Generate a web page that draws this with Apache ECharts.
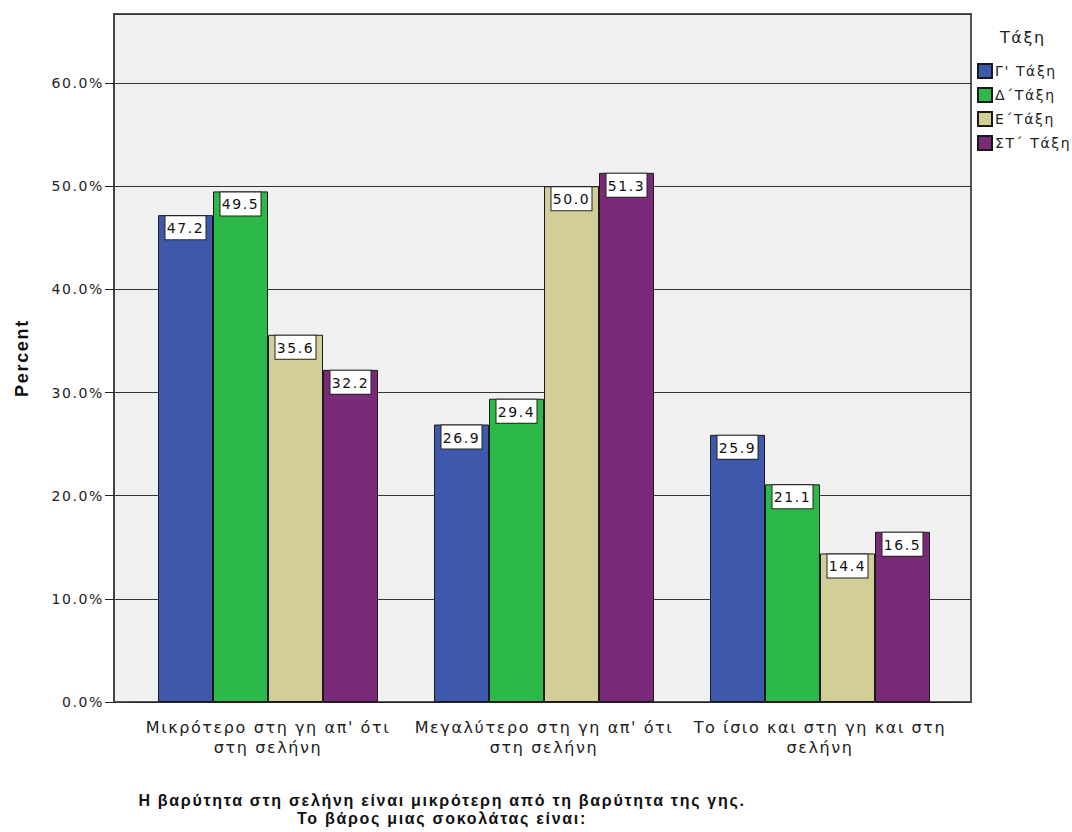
<!DOCTYPE html>
<html>
<head>
<meta charset="utf-8">
<script src="https://cdn.jsdelivr.net/npm/echarts@6/dist/echarts.min.js"></script>
<style>
  html, body { margin: 0; padding: 0; background: #fff; }
  #chart { width: 1072px; height: 832px; }
  /* wide tracking of the chart lettering */
  #chart text { letter-spacing: 1.6px; }
  #chart text.bold-track { letter-spacing: 1.7px; }
</style>
</head>
<body>
<div id="chart"></div>
<script>
// Answer categories (x axis)
const categories = [
  "Μικρότερο στη γη απ' ότι\nστη σελήνη",
  "Μεγαλύτερο στη γη απ' ότι\nστη σελήνη",
  "Το ίσιο και στη γη και στη\nσελήνη"
];
// School grades (series)
const grades = ["Γ' Τάξη", "Δ΄Τάξη", "Ε΄Τάξη", "ΣΤ΄ Τάξη"];
const gradeColors = ["#3E58AC", "#2DB84A", "#D3CE97", "#7B2A7A"];
// Percent of pupils per answer, one array per grade
const gradeG = [47.2, 26.9, 25.9];
const gradeD = [49.5, 29.4, 21.1];
const gradeE = [35.6, 50.0, 14.4];
const gradeST = [32.2, 51.3, 16.5];
const seriesValues = [gradeG, gradeD, gradeE, gradeST];

const yMax = 66.7;
const font = "'DejaVu Sans', Verdana, sans-serif";
const boldFont = "'Liberation Sans', Arial, sans-serif";

const chart = echarts.init(document.getElementById('chart'), null, { renderer: 'svg' });
chart.setOption({
  animation: false,
  textStyle: { fontFamily: font },
  title: {
    text: 'Τάξη', left: 1000, top: 29, padding: 0,
    textStyle: { fontSize: 16, fontWeight: 'normal', color: '#222', fontFamily: font }
  },
  legend: {
    orient: 'vertical', left: 977, top: 63, padding: 0,
    itemWidth: 14, itemHeight: 14, itemGap: 8,
    icon: 'rect',
    textStyle: { fontSize: 14, color: '#222', lineHeight: 14, padding: [0, 0, 0, -2] },
    data: grades
  },
  graphic: [{
    type: 'text', x: 442, y: 791,
    style: {
      text: 'Η βαρύτητα στη σελήνη είναι μικρότερη από τη βαρύτητα της γης.\nΤο βάρος μιας σοκολάτας είναι:',
      font: 'bold 16px ' + boldFont, fill: '#111', align: 'center', verticalAlign: 'top', lineHeight: 18
    }
  }],
  grid: [
    { left: 114, top: 14, width: 857, height: 688, show: true,
      backgroundColor: '#F0F0F0', borderColor: '#555', borderWidth: 2 },
    { left: 130, top: 14, width: 828, height: 688 }
  ],
  xAxis: [
    { type: 'category', gridIndex: 1, data: categories,
      axisLine: { show: true, lineStyle: { color: '#222', width: 1 } },
      axisTick: { alignWithLabel: true, length: 9, lineStyle: { color: '#222' } },
      axisLabel: { interval: 0, fontSize: 16, color: '#222', lineHeight: 20, margin: 15 } },
    { type: 'value', gridIndex: 0, min: 0, max: 1, show: false }
  ],
  yAxis: [
    { type: 'value', gridIndex: 0, min: 0, max: yMax, interval: 10,
      name: 'Percent', nameLocation: 'middle', nameGap: 83, nameRotate: 90,
      nameTextStyle: { fontSize: 18, fontWeight: 'bold', color: '#111', fontFamily: boldFont },
      axisLine: { show: true, lineStyle: { color: '#444', width: 2 } },
      axisTick: { show: true, length: 9, lineStyle: { color: '#222' } },
      axisLabel: { showMaxLabel: false, fontSize: 14, color: '#222', margin: 10,
        formatter: v => v.toFixed(1) + '%' },
      splitLine: { show: true, lineStyle: { color: '#333', width: 1 } } },
    { type: 'value', gridIndex: 1, min: 0, max: yMax, show: false, splitLine: { show: false } }
  ],
  series: grades.map((g, i) => ({
    name: g, type: 'bar', xAxisIndex: 0, yAxisIndex: 1,
    data: seriesValues[i], barWidth: 55, barGap: '0%',
    itemStyle: { color: gradeColors[i], borderColor: '#1a1a1a', borderWidth: 1 },
    label: {
      show: true, position: 'insideTop', distance: 1,
      formatter: p => p.value.toFixed(1),
      fontSize: 14, color: '#111', backgroundColor: '#fff',
      width: 34, align: 'center',
      borderColor: '#222', borderWidth: 1, padding: [5, 3, 4, 3]
    }
  }))
});

// bold lettering gets its own tracking
function markBoldText() {
  document.querySelectorAll('#chart text').forEach(el => {
    const w = getComputedStyle(el).fontWeight;
    if (w === 'bold' || parseInt(w, 10) >= 600) el.classList.add('bold-track');
  });
}
chart.on('finished', markBoldText);
setTimeout(markBoldText, 0);
setTimeout(markBoldText, 200);
</script>
</body>
</html>
